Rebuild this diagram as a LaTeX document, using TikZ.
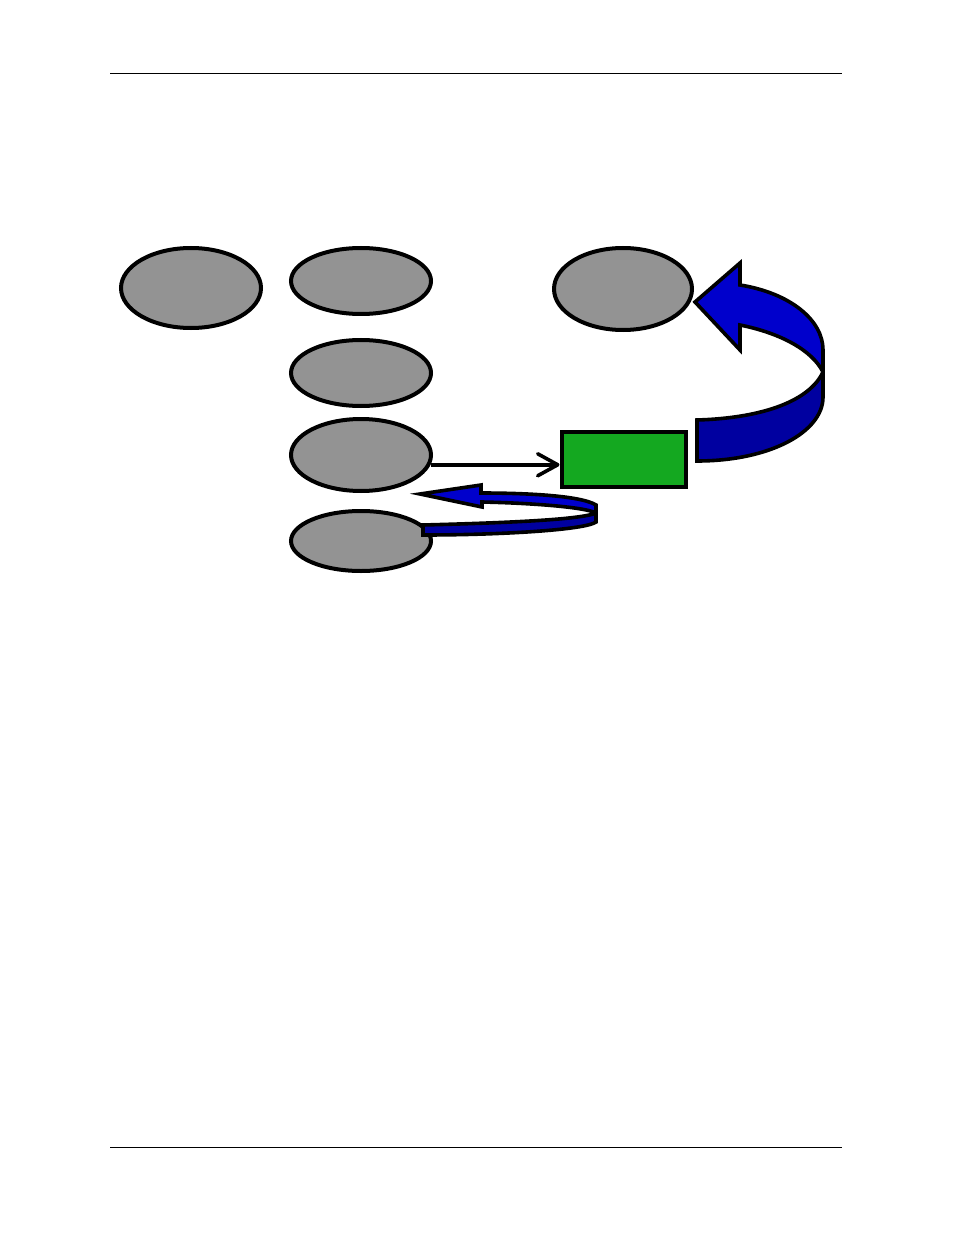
\documentclass[tikz,border=0pt]{standalone}
\usetikzlibrary{shapes,arrows.meta}
\definecolor{ovalgray}{RGB}{147,147,147}
\definecolor{boxgreen}{RGB}{20,168,32}
\definecolor{bandfront}{RGB}{0,0,160}
\definecolor{bandback}{RGB}{0,0,204}

\begin{document}
\begin{tikzpicture}[x=0.5pt,y=-0.5pt,
        oval/.style={draw,ellipse,fill=ovalgray,line width=2pt,inner sep=0pt,minimum width=70pt},
        block/.style={draw,rectangle,fill=boxgreen,line width=2pt,inner sep=0pt},
        band/.style={draw,line width=1.8pt,line join=miter},
        rule/.style={line width=0.5pt}]
        \useasboundingbox (0,0) rectangle (954,1235);

        \draw[rule] (110,74) -- (842,74);
        \draw[rule] (110,1147) -- (842,1147);

        \node [oval,minimum height=40pt] (A) at (191, 288) {};
        \node [oval,minimum height=33pt] (B) at (361, 281) {};
        \node [oval,minimum width=69pt,minimum height=41pt] (C) at (623, 289) {};
        \node [oval,minimum height=33pt] (D) at (361, 373) {};
        \node [oval,minimum height=36pt] (E) at (361, 455) {};
        \node [oval,minimum height=30pt] (F) at (361, 541) {};
        \node [block,minimum width=62pt,minimum height=27.5pt] (G) at (623.5, 459.5) {};

        \draw[line width=1.8pt, -{Straight Barb[length=10pt,width=11pt,line width=1.8pt,round]}] (E.-8) -- (E.-8 -| G.west);

        % big arrow from G back up to C
        \draw[band,fill=bandback] (740,285) .. controls (790,293) and (823,320) .. (823,350) -- (823,372)
              .. controls (812,350) and (780,333) .. (740,325) -- (740,350) -- (695,302) -- (740,263) -- cycle;
        \draw[band,fill=bandfront] (697,420) .. controls (765,418) and (810,400) .. (823,372) -- (823,397)
              .. controls (823,432) and (770,461) .. (697,461) -- cycle;

        % small arrow from F back up towards E
        \draw[band,fill=bandback] (596,505) .. controls (580,495) and (520,493) .. (481,493) -- (481,485)
              -- (420,494) -- (482,507) -- (482,502) .. controls (530,503) and (585,507) .. (596,513) -- cycle;
        \draw[band,fill=bandfront] (423,525) .. controls (500,523) and (580,520) .. (596,513) -- (596,522)
              .. controls (585,530) and (500,535) .. (423,535) -- cycle;
\end{tikzpicture}
\end{document}
